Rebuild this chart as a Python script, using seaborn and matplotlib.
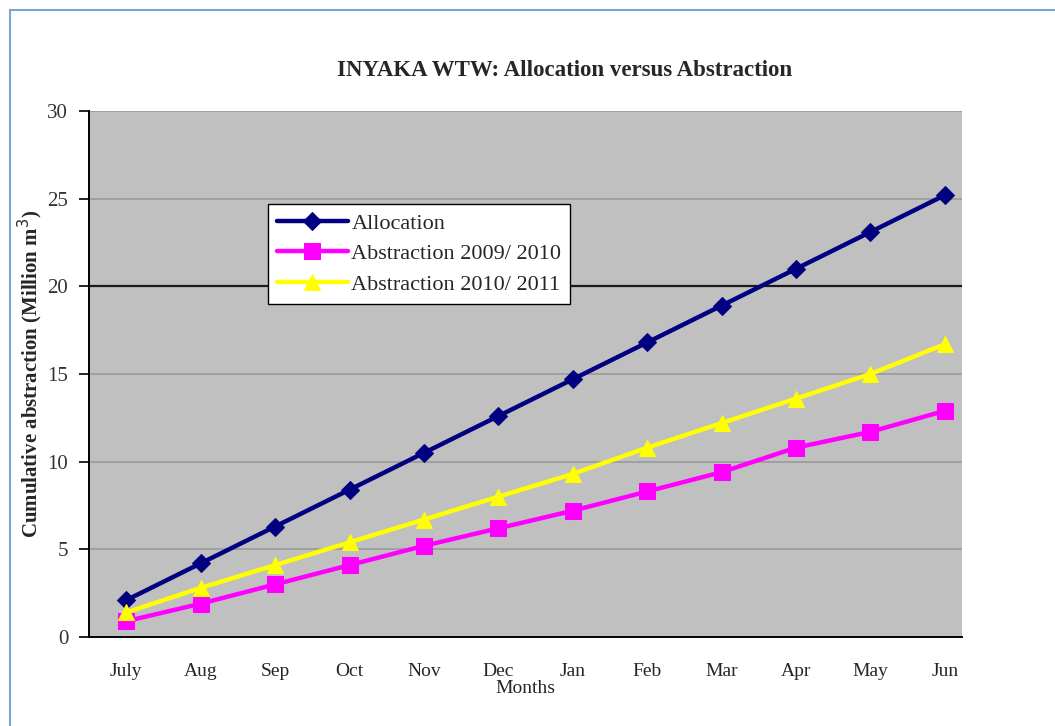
"""INYAKA WTW: cumulative allocation against abstraction, redrawn with seaborn."""

import matplotlib

matplotlib.use("Agg")
import matplotlib.pyplot as plt
import pandas as pd
import seaborn as sns
from matplotlib.patches import Rectangle

months = ["July", "Aug", "Sep", "Oct", "Nov", "Dec", "Jan", "Feb", "Mar", "Apr", "May", "Jun"]
allocation = [2.1, 4.2, 6.3, 8.4, 10.5, 12.6, 14.7, 16.8, 18.9, 21.0, 23.1, 25.2]
abstraction_0910 = [0.9, 1.9, 3.0, 4.1, 5.2, 6.2, 7.2, 8.3, 9.4, 10.8, 11.7, 12.9]
abstraction_1011 = [1.4, 2.8, 4.1, 5.4, 6.7, 8.0, 9.3, 10.8, 12.2, 13.6, 15.0, 16.7]
y_ticks = [0, 5, 10, 15, 20, 25, 30]

series = [
    ("Allocation", allocation, "#000080", "D", 9),
    ("Abstraction 2009/ 2010", abstraction_0910, "#ff00ff", "s", 11),
    ("Abstraction 2010/ 2011", abstraction_1011, "#ffff00", "^", 12),
]

sns.set_theme(style="white")
plt.rcParams["font.family"] = ["Liberation Serif", "DejaVu Serif"]

fig = plt.figure(figsize=(10.55, 7.26), dpi=100)
ax = fig.add_axes([0.0844, 0.1226, 0.8274, 0.7245])
ax.set_facecolor("#c0c0c0")

# outer frame like the source screenshot
fig.patches.append(Rectangle((10 / 1055, -0.1), 1.2, 1 - 10 / 726 + 0.1, transform=fig.transFigure,
                             fill=False, edgecolor="#7fa3d6", linewidth=1.5))

for y in y_ticks[1:]:
    ax.axhline(y, color="#1a1a1a" if y == 20 else "#9a9a9a", linewidth=1.6 if y == 20 else 1.2, zorder=1)

for name, values, color, marker, msize in series:
    df = pd.DataFrame({"month": months, "value": values})
    sns.lineplot(data=df, x="month", y="value", sort=False, color=color, marker=marker,
                 markersize=msize, markeredgecolor=color, linewidth=3.2, label=name, ax=ax, zorder=3)

ax.set_xlim(-0.497, 11.23)
ax.set_ylim(0, 30)
ax.set_yticks(y_ticks)
ax.set_xticks(range(len(months)))
ax.set_xticklabels(months)
ax.set_xticks([i - 0.5 for i in range(len(months))], minor=True)
ax.tick_params(axis="x", which="major", length=0, pad=19, labelsize=14)
ax.tick_params(axis="x", which="minor", length=8, width=1.2, color="black", direction="out")
ax.tick_params(axis="y", length=7, width=1.2, color="black", direction="out", left=True, labelsize=15,
               labelcolor="#333333", pad=8)
for s in ["top", "right"]:
    ax.spines[s].set_visible(False)
for s in ["left", "bottom"]:
    ax.spines[s].set_color("black")
    ax.spines[s].set_linewidth(1.4)

ax.set_xlabel("Months", fontsize=14, labelpad=0)
ax.set_ylabel("Cumulative abstraction (Million m$^3$)", fontsize=15, fontweight="bold", labelpad=2)
fig.text(0.5355, 0.903, "INYAKA WTW: Allocation versus Abstraction", ha="center", va="center",
         fontsize=16.5, fontweight="bold")

leg = ax.legend(loc="upper left", bbox_to_anchor=(0.205, 0.823), frameon=True, fancybox=False,
                fontsize=16, handlelength=3.2, handletextpad=0.15, borderpad=0.4, labelspacing=0.45,
                borderaxespad=0)
leg.get_frame().set_edgecolor("black")
leg.get_frame().set_linewidth(1.0)
leg.get_frame().set_facecolor("white")
leg.get_frame().set_alpha(1)

fig.savefig("out.png", dpi=100)
